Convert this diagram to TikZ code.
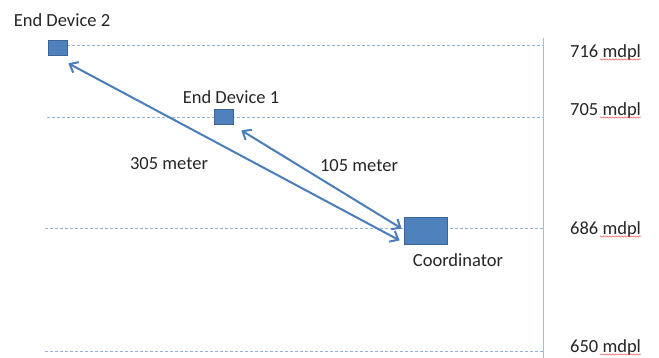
\documentclass[tikz,border=0pt]{standalone}
\usepackage{fontspec}
\setmainfont{Carlito}
\usetikzlibrary{arrows.meta,decorations.pathmorphing}
\definecolor{boxfill}{HTML}{4F81BD}
\definecolor{boxline}{HTML}{3A6596}
\definecolor{linkblue}{HTML}{4A7EBB}
\definecolor{levelline}{HTML}{95B3D7}
\definecolor{axisline}{HTML}{A4BEDC}
\definecolor{txt}{HTML}{262626}
\tikzset{
  device/.style={draw=boxline, fill=boxfill, line width=0.8pt, minimum width=19pt, minimum height=15pt, inner sep=0pt},
  label/.style={text=txt, font=\fontsize{18.5}{20}\selectfont, inner sep=0pt},
  level/.style={draw=levelline, dashed, dash pattern=on 3pt off 2pt, line width=0.7pt},
  link/.style={draw=linkblue, line width=2pt, {Straight Barb[length=7pt,width=12pt,line width=2pt]}-{Straight Barb[length=7pt,width=12pt,line width=2pt]}},
  spell/.style={draw=red!70, line width=0.5pt, decorate, decoration={snake, amplitude=0.6pt, segment length=3pt}}
}
\begin{document}
\begin{tikzpicture}[x=1pt,y=-1pt]
  \useasboundingbox[fill=white] (0,0) rectangle (659,358);

  % altitude levels
  \coordinate (l1w) at (67,45);   \coordinate (l1e) at (543,45);
  \coordinate (l2w) at (47,117);  \coordinate (l2e) at (543,117);
  \coordinate (l3w) at (45,228);  \coordinate (l3e) at (543,228);
  \coordinate (l4w) at (45,351);  \coordinate (l4e) at (543,351);
  \draw[level] (l1w) -- (l1e);
  \draw[level] (l2w) -- (l2e);
  \draw[level] (l3w) -- (l3e);
  \draw[level] (l4w) -- (l4e);

  % vertical scale
  \coordinate (axtop) at (543,38);
  \coordinate (axbot) at (543,358);
  \draw[axisline, line width=1pt] (axtop) -- (axbot);

  % level labels
  \foreach \v/\y in {716/53, 705/111, 686/230, 650/348}{
    \node[label, anchor=west] (lv\v) at (570,\y) {\v{} mdpl};
    \draw[spell] ([xshift=30pt,yshift=-1.5pt]lv\v.base west) -- ([yshift=-1.5pt]lv\v.base east);
  }

  % devices
  \node[device] (ed2) at (57.5,47.5) {};
  \node[device] (ed1) at (223.5,116.5) {};
  \node[device, minimum width=43pt, minimum height=27pt] (coord) at (425.5,230.5) {};

  \node[label] (ed2lbl) at (62,20) {End Device 2};
  \node[label] (ed1lbl) at (231,97) {End Device 1};
  \node[label] (coordlbl) at (458,260) {Coordinator};

  % links
  \draw[link] ([shift={(1,8)}]ed2.south east) -- ([shift={(-4,-4)}]coord.south west);
  \draw[link] ([shift={(8,6)}]ed1.south east) -- ([shift={(-2,-2)}]coord.west);

  \node[label] (d305) at (169,164) {305 meter};
  \node[label] (d105) at (359,166) {105 meter};
\end{tikzpicture}
\end{document}
